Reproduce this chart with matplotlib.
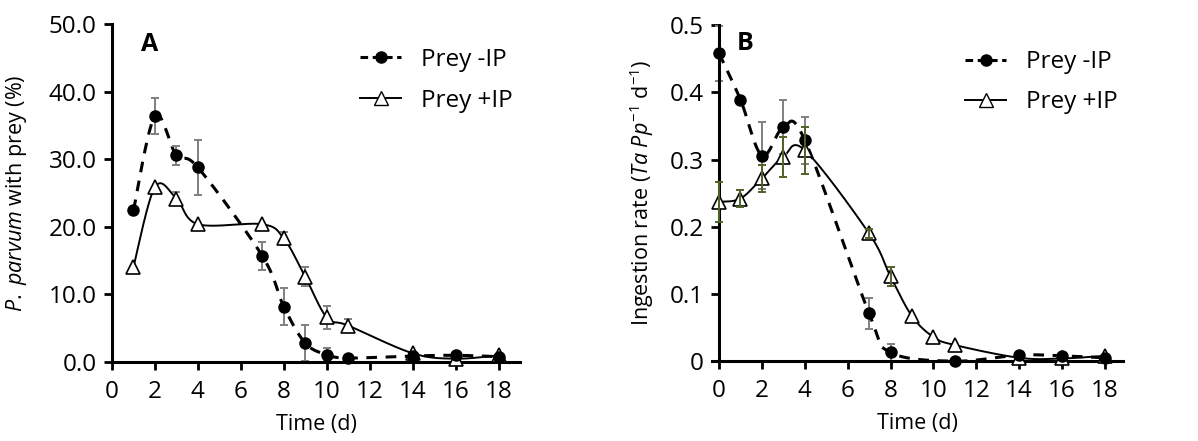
import numpy as np
import matplotlib.pyplot as plt
from matplotlib.lines import Line2D

plt.rcParams['font.family'] = ['Open Sans', 'DejaVu Sans']
plt.rcParams['mathtext.fontset'] = 'custom'
plt.rcParams['mathtext.rm'] = 'Open Sans'
plt.rcParams['mathtext.it'] = 'Open Sans:italic'

# ---- panel A: % P. parvum with prey ----
days_a = [1, 2, 3, 4, 7, 8, 9, 10, 11, 14, 16, 18]
a_minus = [22.5, 36.4, 30.6, 28.8, 15.7, 8.2, 2.8, 1.1, 0.6, 0.9, 1.0, 0.8]
a_minus_err = [0, 2.7, 1.4, 4.0, 2.1, 2.7, 2.7, 1.0, 0, 0, 0, 0]
a_plus = [14.1, 25.9, 24.2, 20.4, 20.4, 18.3, 12.6, 6.6, 5.4, 1.3, 0.5, 1.0]
a_plus_err = [0, 0, 1.0, 0, 0, 0.9, 1.4, 1.7, 0.9, 0, 0, 0]

# ---- panel B: ingestion rate ----
days_b_minus = [0, 1, 2, 3, 4, 7, 8, 11, 14, 16, 18]
b_minus = [0.458, 0.389, 0.306, 0.348, 0.329, 0.071, 0.013, 0.0, 0.009, 0.008, 0.005]
b_minus_err = [0.041, 0, 0.05, 0.04, 0.035, 0.023, 0.012, 0, 0, 0, 0]
days_b_plus = [0, 1, 2, 3, 4, 7, 8, 9, 10, 11, 14, 16, 18]
b_plus = [0.237, 0.242, 0.272, 0.304, 0.314, 0.190, 0.126, 0.067, 0.036, 0.024, 0.005, 0.004, 0.008]
b_plus_err = [0.03, 0.012, 0.02, 0.03, 0.035, 0.007, 0.014, 0, 0, 0, 0, 0, 0]

labels = ["Prey -IP", "Prey +IP"]


def smooth(x, y, n=40):
    # Excel-style smoothed line (cubic Bezier through the points)
    p = np.column_stack([x, y]).astype(float)
    p = np.vstack([p[0], p, p[-1]])
    t = np.linspace(0, 1, n)[:, None]
    segs = []
    for i in range(1, len(p) - 2):
        p0, p1, p2, p3 = p[i - 1], p[i], p[i + 1], p[i + 2]
        c1 = p1 + (p2 - p0) / 6
        c2 = p2 - (p3 - p1) / 6
        segs.append((1 - t) ** 3 * p1 + 3 * (1 - t) ** 2 * t * c1
                    + 3 * (1 - t) * t ** 2 * c2 + t ** 3 * p2)
    s = np.vstack(segs)
    return s[:, 0], s[:, 1]


def errbars(ax, x, y, e, color, z=2):
    x, y, e = np.array(x), np.array(y), np.array(e)
    m = e > 0
    ax.errorbar(x[m], y[m], yerr=e[m], fmt='none', ecolor=color,
                capsize=3, elinewidth=1.4, capthick=1.4, zorder=z, clip_on=False)


def draw(ax, xm, ym, em, xp, yp, ep, col_m, col_p, plus_err_top=False):
    sx, sy = smooth(xm, ym)
    ax.plot(sx, sy, color='black', lw=2.2, dashes=(3.5, 2.8), zorder=2)
    sx, sy = smooth(xp, yp)
    ax.plot(sx, sy, color='black', lw=1.4, zorder=2)
    errbars(ax, xm, ym, em, col_m, 2)
    errbars(ax, xp, yp, ep, col_p, 5 if plus_err_top else 2)
    ax.plot(xp, yp, linestyle='none', marker='^', ms=10, mfc='white',
            mec='black', mew=1.2, zorder=3, clip_on=False)
    ax.plot(xm, ym, linestyle='none', marker='o', ms=8, color='black',
            zorder=4, clip_on=False)


def style(ax):
    for s in ['top', 'right']:
        ax.spines[s].set_visible(False)
    for s in ['left', 'bottom']:
        ax.spines[s].set_linewidth(2.2)
    ax.tick_params(axis='both', direction='out', length=6, width=2, labelsize=17.5)
    ax.tick_params(axis='x', pad=7)
    ax.tick_params(axis='y', pad=5)
    ax.set_xticks(range(0, 19, 2))
    ax.set_xlabel("Time (d)", fontsize=15.5, labelpad=7)


handles = [
    Line2D([], [], color='black', lw=2.2, dashes=(2.5, 1.5), marker='o', ms=8),
    Line2D([], [], color='black', lw=1.4, marker='^', ms=10, mfc='white', mec='black'),
]

fig = plt.figure(figsize=(11.98, 4.41), dpi=100)

# panel A
ax1 = fig.add_axes([0.0935, 0.179, 0.3406, 0.766])
draw(ax1, days_a, a_minus, a_minus_err, days_a, a_plus, a_plus_err, '#7f7f7f', '#7f7f7f')
ax1.set_xlim(0, 19)
ax1.set_ylim(0, 50)
ax1.set_yticks(np.arange(0, 51, 10))
ax1.yaxis.set_major_formatter(lambda v, pos: f"{v:.1f}")
style(ax1)
ax1.set_ylabel(r"$\it{P.}$ $\it{parvum}$ with prey (%)", fontsize=15.5, labelpad=14)
ax1.text(1.77, 47, "A", fontsize=18, fontweight='bold', va='center', ha='center')
ax1.legend(handles, labels, loc='upper right', bbox_to_anchor=(1.035, 0.995), frameon=False,
           fontsize=17.5, handlelength=1.7, handletextpad=0.8, labelspacing=0.7)

# panel B
ax2 = fig.add_axes([0.5943, 0.181, 0.343, 0.762])
draw(ax2, days_b_minus, b_minus, b_minus_err, days_b_plus, b_plus, b_plus_err,
     '#7f7f7f', '#4f6228', plus_err_top=True)
ax2.set_xlim(-0.33, 18.84)
ax2.set_ylim(0, 0.5)
ax2.spines['left'].set_position(('data', 0))
ax2.set_yticks(np.arange(0, 0.51, 0.1))
ax2.yaxis.set_major_formatter(lambda v, pos: "0" if abs(v) < 1e-9 else f"{v:.1f}")
style(ax2)
ax2.set_ylabel(r"Ingestion rate ($\it{Ta}$ $\it{Pp}^{-1}$ d$^{-1}$)", fontsize=15.5, labelpad=10)
ax2.text(1.2, 0.472, "B", fontsize=18, fontweight='bold', va='center', ha='center')
ax2.legend(handles, labels, loc='upper right', bbox_to_anchor=(1.04, 0.99), frameon=False,
           fontsize=17.5, handlelength=1.7, handletextpad=0.8, labelspacing=0.65)

fig.savefig("out.png", dpi=100)
